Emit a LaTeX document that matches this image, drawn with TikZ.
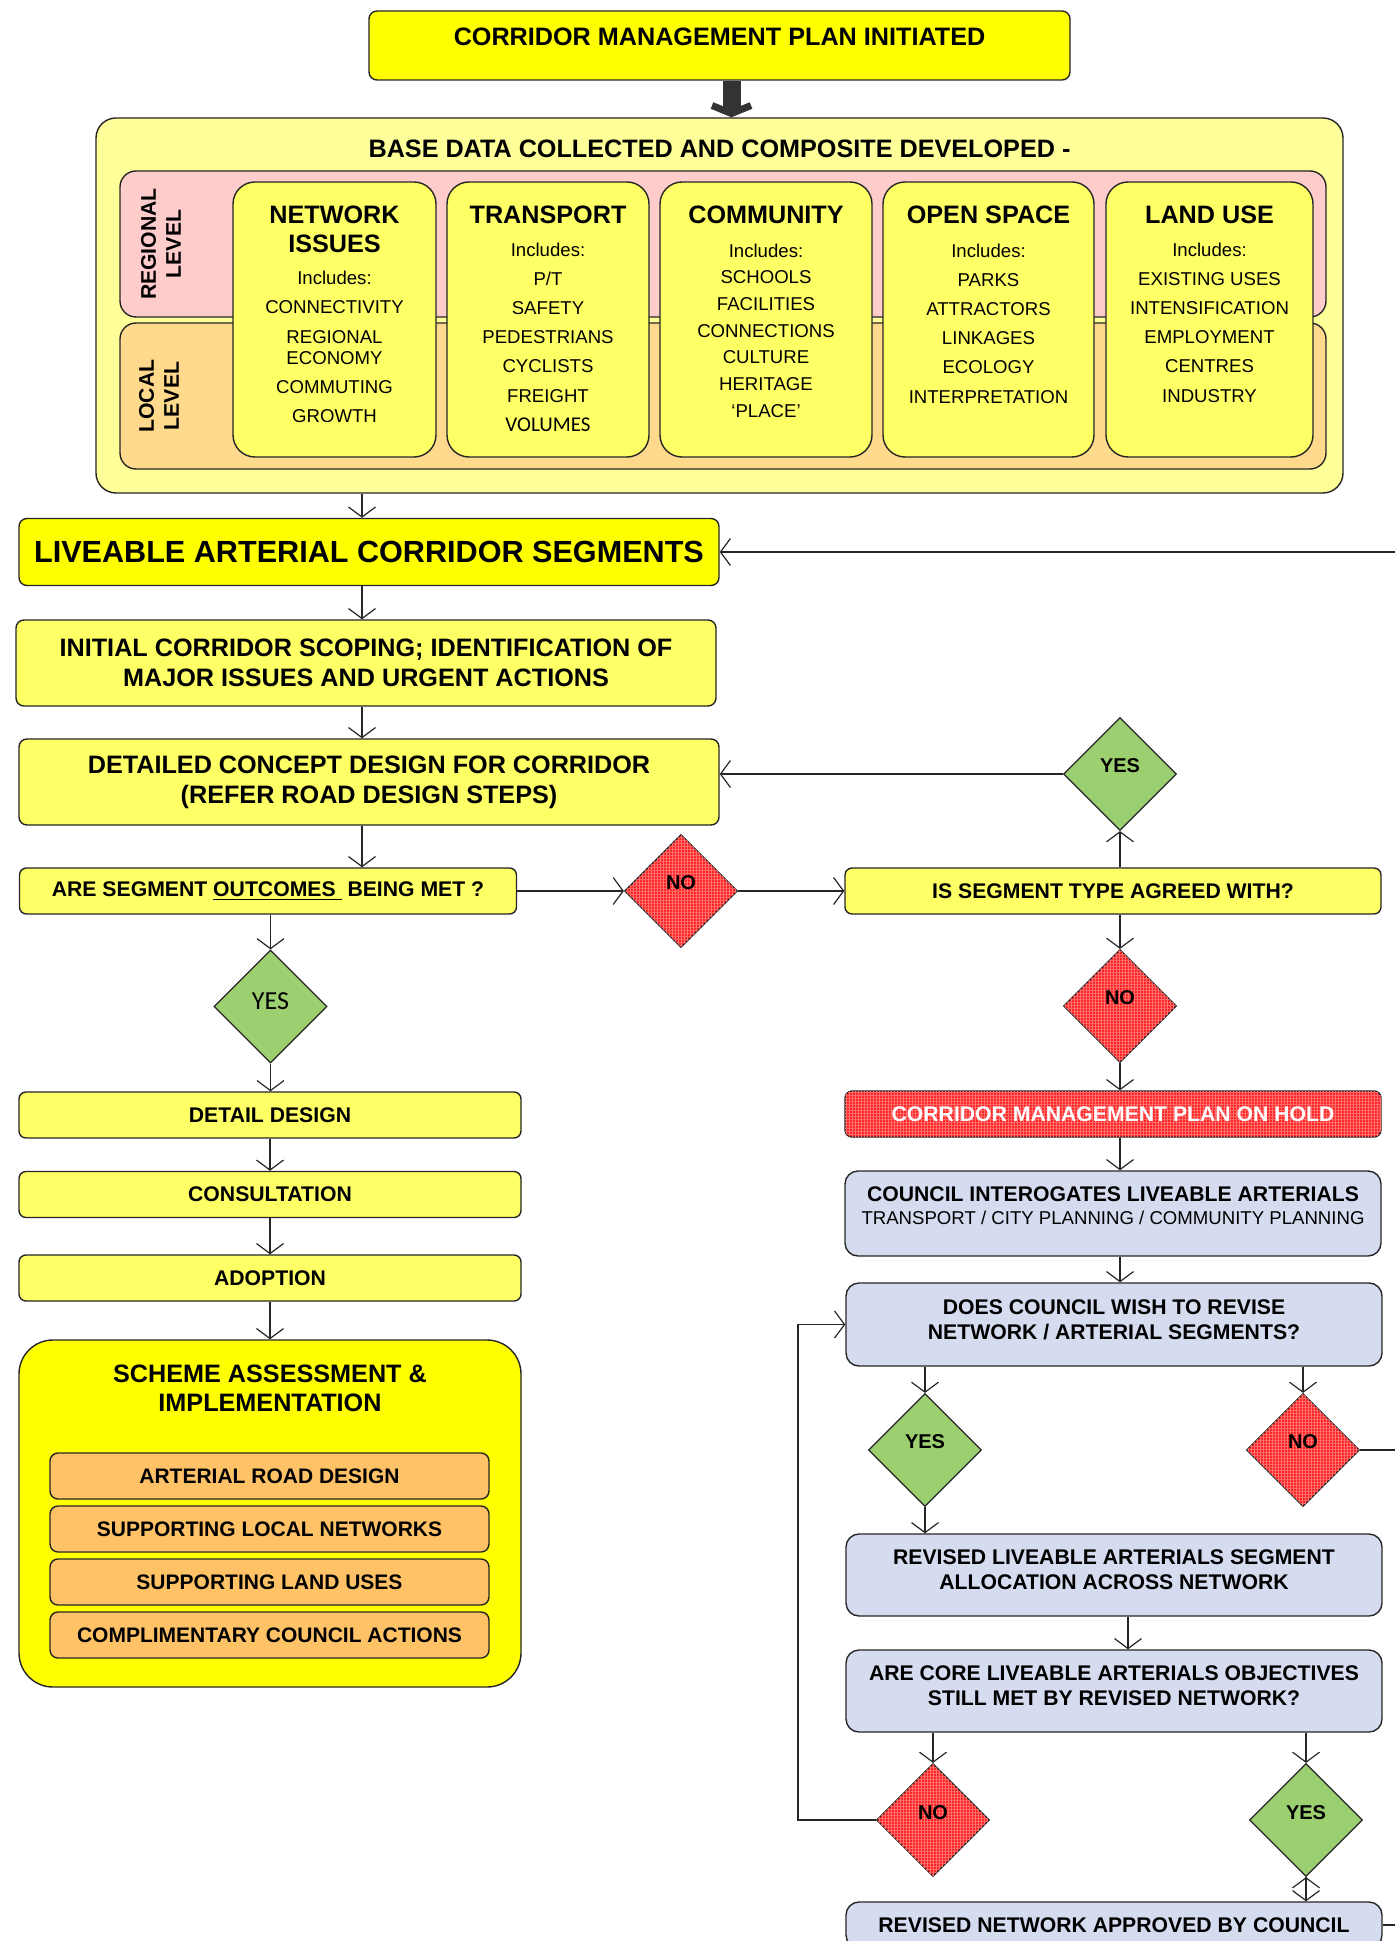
\documentclass[tikz,border=0pt]{standalone}
\usepackage{fontspec}
\setmainfont{Liberation Sans}
\newfontfamily\softfont{Carlito}
\usepackage{tikz}
\usetikzlibrary{
	shapes.geometric,
	positioning,
	arrows.meta,
	patterns.meta
}

\definecolor{ylwbright}{HTML}{FFFF00}
\definecolor{ylwsoft}{HTML}{FFFF66}
\definecolor{ylwpale}{HTML}{FFFF99}
\definecolor{pinkband}{HTML}{FFCCCC}
\definecolor{tanband}{HTML}{FFD98C}
\definecolor{orangefill}{HTML}{FFC266}
\definecolor{bluefill}{HTML}{D5DCF0}
\definecolor{greenfill}{HTML}{9CCF70}
\definecolor{redbase}{HTML}{FF2626}
\definecolor{redgrid}{HTML}{FF7070}
\definecolor{edge}{HTML}{262626}
\definecolor{shaft}{HTML}{333333}

\begin{document}
\begin{tikzpicture}[
		x=0.5pt, y=-0.5pt,
		outline/.style={draw=edge, line width=0.7pt, inner sep=0pt, align=center},
		bigbox/.style={outline, rounded corners=4pt, minimum width=350pt, minimum height=43pt, font=\bfseries\fontsize{12.6}{15}\selectfont},
		stepbox/.style={outline, rounded corners=3.5pt, fill=ylwsoft, minimum width=251pt, minimum height=23pt, font=\bfseries\fontsize{10.6}{12.5}\selectfont},
		rightbox/.style={stepbox, minimum width=268pt},
		bluebox/.style={rightbox, fill=bluefill, rounded corners=6.5pt, minimum height=41pt, text depth=5pt},
		redfill/.style={fill=redbase, postaction={pattern={Hatch[distance=1.5pt,line width=0.25pt]},pattern color=redgrid}},
		catbox/.style={outline, rounded corners=11pt, fill=ylwsoft, minimum height=137.5pt},
		band/.style={outline, rounded corners=8pt, minimum width=603pt, minimum height=73pt},
		cathead/.style={inner sep=0pt, align=center, font=\bfseries\fontsize{12.6}{14.5}\selectfont},
		catlist/.style={inner sep=0pt, align=center, font=\fontsize{9.3}{14.6}\selectfont},
		sidelabel/.style={inner sep=0pt, align=center, rotate=90, font=\bfseries\fontsize{10.6}{12.5}\selectfont},
		subbox/.style={outline, rounded corners=4pt, fill=orangefill, minimum width=219.5pt, minimum height=23pt, font=\bfseries\fontsize{10.5}{12}\selectfont},
		decision/.style={diamond, draw=edge, line width=0.6pt, inner sep=0pt, minimum width=56.5pt, minimum height=56.5pt, text depth=8pt, font=\bfseries\fontsize{10}{12}\selectfont},
		yesdec/.style={decision, fill=greenfill},
		nodec/.style={decision, redfill},
		flow/.style={draw=edge, line width=0.6pt, -{Straight Barb[length=5pt,width=13.5pt]}},
		bigflow/.style={draw=shaft, line width=9pt, -{Straight Barb[length=4pt,width=19.5pt,line width=3.5pt]}}
	]
	\useasboundingbox (0,0) rectangle (1395,1941);

	\node[bigbox, fill=ylwbright, minimum width=350.5pt, minimum height=34.5pt, text depth=8.5pt] (initiated) at (719.5,45.5) {CORRIDOR MANAGEMENT PLAN INITIATED};

	\node[outline, rounded corners=10pt, fill=ylwpale, minimum width=623.5pt, minimum height=187.5pt] (base) at (719.5,305.5) {};
	\node[cathead] (baseT) at (719.5,148.5) {BASE DATA COLLECTED AND COMPOSITE DEVELOPED -};
	\node[band, fill=pinkband] (regional) at (723,244) {};
	\node[band, fill=tanband] (local) at (723,396) {};
	\node[sidelabel] (regionalT) at (161,244) {REGIONAL\\LEVEL};
	\node[sidelabel] (localT) at (159,396) {LOCAL\\LEVEL};

	\node[catbox, minimum width=101.5pt] (network) at (334.5,319.5) {};
	\node[catbox, minimum width=101pt] (transport) at (548,319.5) {};
	\node[catbox, minimum width=106pt] (community) at (766,319.5) {};
	\node[catbox, minimum width=105.5pt] (openspace) at (988.5,319.5) {};
	\node[catbox, minimum width=103.5pt] (landuse) at (1209.5,319.5) {};

	\node[cathead, below=12pt of network.north] (networkH) {NETWORK\\ISSUES};
	\node[cathead, below=12pt of transport.north] (transportH) {TRANSPORT};
	\node[cathead, below=12pt of community.north] (communityH) {COMMUNITY};
	\node[cathead, below=12pt of openspace.north] (openspaceH) {OPEN SPACE};
	\node[cathead, below=12pt of landuse.north] (landuseH) {LAND USE};

	\node[catlist, below=44.8pt of network.north] (networkL) {Includes:\\CONNECTIVITY\\REGIONAL\\[-4pt]ECONOMY\\COMMUTING\\GROWTH};
	\node[catlist, below=30.5pt of transport.north] (transportL) {Includes:\\P/T\\SAFETY\\PEDESTRIANS\\CYCLISTS\\FREIGHT\\{\softfont\fontsize{10.5}{14.6}\selectfont VOLUMES}};
	\node[catlist, font=\fontsize{9.3}{13.35}\selectfont, below=31pt of community.north] (communityL) {Includes:\\SCHOOLS\\FACILITIES\\CONNECTIONS\\CULTURE\\HERITAGE\\`PLACE'};
	\node[catlist, below=31pt of openspace.north] (openspaceL) {Includes:\\PARKS\\ATTRACTORS\\LINKAGES\\ECOLOGY\\INTERPRETATION};
	\node[catlist, below=30.5pt of landuse.north] (landuseL) {Includes:\\EXISTING USES\\INTENSIFICATION\\EMPLOYMENT\\CENTRES\\INDUSTRY};

	\node[bigbox, fill=ylwbright, minimum height=33.5pt, font=\bfseries\fontsize{15.3}{18}\selectfont] (liveable) at (369,552) {LIVEABLE ARTERIAL CORRIDOR SEGMENTS};
	\node[bigbox, fill=ylwsoft] (initial) at (366,663) {INITIAL CORRIDOR SCOPING; IDENTIFICATION OF\\MAJOR ISSUES AND URGENT ACTIONS};
	\node[bigbox, fill=ylwsoft] (detailed) at (369,782) {DETAILED CONCEPT DESIGN FOR CORRIDOR\\(REFER ROAD DESIGN STEPS)};
	\node[stepbox, minimum width=248.5pt] (segmet) at (268,891) {ARE SEGMENT \underline{OUTCOMES\ } BEING MET ?};
	\node[nodec] (noA) at (681,891) {NO};
	\node[rightbox] (agreed) at (1113,891) {IS SEGMENT TYPE AGREED WITH?};
	\node[yesdec] (yesA) at (1120,774) {YES};
	\node[nodec] (noB) at (1120,1006) {NO};

	\node[yesdec, text depth=5pt, font=\softfont\fontsize{13}{15}\selectfont] (yesL) at (270.5,1006.5) {YES};
	\node[stepbox] (design) at (270,1115) {DETAIL DESIGN};
	\node[stepbox] (consult) at (270,1194.5) {CONSULTATION};
	\node[stepbox] (adopt) at (270,1278) {ADOPTION};
	\node[outline, rounded corners=17pt, fill=ylwbright, minimum width=251pt, minimum height=173.5pt] (scheme) at (270,1513.5) {};
	\node[cathead, below=12.5pt of scheme.north] (schemeT) {SCHEME ASSESSMENT \&\\IMPLEMENTATION};
	\foreach \part [count=\i] in {ARTERIAL ROAD DESIGN, SUPPORTING LOCAL NETWORKS, SUPPORTING LAND USES, COMPLIMENTARY COUNCIL ACTIONS}
		\node[subbox] (part\i) at (269.5,1423+53*\i) {\part};

	\node[rightbox, redfill, text=white] (hold) at (1113,1114) {CORRIDOR MANAGEMENT PLAN ON HOLD};
	\node[bluebox, minimum height=42.5pt, text depth=7.5pt] (council) at (1113,1213.5) {COUNCIL INTEROGATES LIVEABLE ARTERIALS\\[-1pt]{\mdseries\fontsize{9.3}{11}\selectfont TRANSPORT / CITY PLANNING / COMMUNITY PLANNING}};
	\node[bluebox, minimum height=41.5pt] (revise) at (1114,1324.5) {DOES COUNCIL WISH TO REVISE\\NETWORK / ARTERIAL SEGMENTS?};
	\node[yesdec] (yesC) at (925,1450) {YES};
	\node[nodec] (noC) at (1303,1450) {NO};
	\node[bluebox] (realloc) at (1114,1575) {REVISED LIVEABLE ARTERIALS SEGMENT\\ALLOCATION ACROSS NETWORK};
	\node[bluebox] (coretest) at (1114,1691) {ARE CORE LIVEABLE ARTERIALS OBJECTIVES\\STILL MET BY REVISED NETWORK?};
	\node[nodec] (noD) at (933,1820) {NO};
	\node[yesdec] (yesD) at (1306,1820) {YES};
	\node[bluebox, minimum height=23pt, text depth=0pt] (approved) at (1114,1925) {REVISED NETWORK APPROVED BY COUNCIL};

	\coordinate (spine) at (362,0);
	\coordinate (mid) at (1128,0);
	\coordinate (loop) at (798,0);
	\coordinate (outside) at (1420,0);

	\draw[bigflow] ([xshift=6pt]initiated.south) -- ([xshift=6pt]base.north);
	\draw[flow]
		(base.south -| spine) edge (liveable.north -| spine)
		(liveable.south -| spine) edge (initial.north -| spine)
		(initial.south -| spine) edge (detailed.north -| spine)
		(detailed.south -| spine) edge (segmet.north -| spine)
		(segmet.south -| yesL) edge (yesL.north)
		(yesL.south) edge (design.north -| yesL)
		(design.south) edge (consult.north)
		(consult.south) edge (adopt.north)
		(adopt.south) edge (scheme.north)
		(segmet.east) edge (noA.west)
		(noA.east) edge (agreed.west)
		(agreed.north -| yesA) edge (yesA.south)
		(yesA.west) edge (yesA.west -| detailed.east)
		(agreed.south -| noB) edge (noB.north)
		(noB.south) edge (hold.north -| noB)
		(hold.south -| noB) edge (council.north -| noB)
		(council.south -| noB) edge (revise.north -| noB)
		(revise.south -| yesC) edge (yesC.north)
		(revise.south -| noC) edge (noC.north)
		(yesC.south) edge (realloc.north -| yesC)
		(realloc.south -| mid) edge (coretest.north -| mid)
		(coretest.south -| noD) edge (noD.north)
		(coretest.south -| yesD) edge (yesD.north)
		(yesD.south) edge (approved.north -| yesD)
	;
	\draw[flow] (noD.west) -| (loop |- revise.west) -- (revise.west);
	\draw[flow] (approved.east) -| (outside |- liveable.east) -- (liveable.east);
	\draw[flow, -] (noC.east) -- (noC.east -| outside);
\end{tikzpicture}
\end{document}
